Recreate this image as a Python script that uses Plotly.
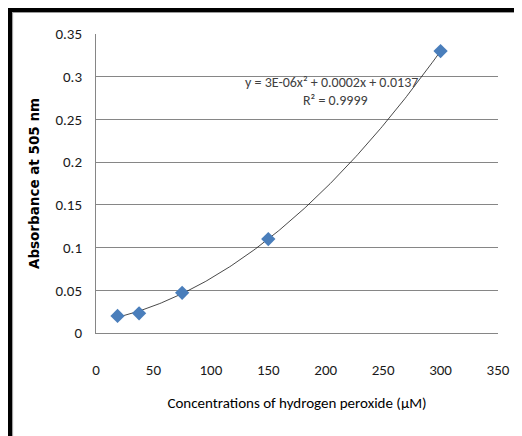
import numpy as np
import plotly.graph_objects as go

# Data
concentration = [18.75, 37.5, 75, 150, 300]
absorbance = [0.020, 0.023, 0.047, 0.110, 0.330]
x_ticks = [0, 50, 100, 150, 200, 250, 300, 350]
y_ticks = [0, 0.05, 0.1, 0.15, 0.2, 0.25, 0.3, 0.35]
y_tick_labels = ["0", "0.05", "0.1", "0.15", "0.2", "0.25", "0.3", "0.35"]
equation_text = "y = 3E-06x² + 0.0002x + 0.0137"
r2_text = "R² = 0.9999"

# polynomial trendline (order 2), as the spreadsheet does
coef = np.polyfit(concentration, absorbance, 2)
xf = np.linspace(min(concentration), max(concentration), 200)
yf = np.polyval(coef, xf)

FONT = "Carlito, 'Liberation Sans Narrow', 'Liberation Sans', sans-serif"

OFF = 8  # page body margin
W, H = 522 - OFF, 436 - OFF
L, R, T, B = 96 - OFF, 501 - OFF, 34 - OFF, 333 - OFF
def px(x):
    return (x - OFF - L) / (R - L)
def py(y):
    return (B - (y - OFF)) / (B - T)

fig = go.Figure()
fig.add_trace(go.Scatter(x=xf, y=yf, mode="lines",
                         line=dict(color="#1a1a1a", width=0.8), hoverinfo="skip",
                         showlegend=False))
fig.add_trace(go.Scatter(x=concentration, y=absorbance, mode="markers",
                         marker=dict(symbol="diamond", size=11, color="#4a7ebb",
                                     line=dict(width=0)),
                         showlegend=False))

fig.update_xaxes(range=[0, 350], tickvals=x_ticks, showgrid=False,
                 showline=True, linecolor="#868686", linewidth=1,
                 zeroline=False, ticks="", ticklen=0, ticklabelstandoff=23,
                 tickfont=dict(family=FONT, size=15, color="#1a1a1a"),
                 title=dict(text="Concentrations of hydrogen peroxide (μM)",
                            font=dict(family=FONT, size=15, color="#000000"),
                            standoff=19))
fig.update_yaxes(range=[0, 0.35], tickvals=y_ticks, ticktext=y_tick_labels,
                 showgrid=True, gridcolor="#868686", gridwidth=1,
                 showline=True, linecolor="#868686", linewidth=1,
                 zeroline=False, ticks="", ticklen=0, ticklabelstandoff=10,
                 tickfont=dict(family=FONT, size=15, color="#1a1a1a"),
                 title=dict(text="<b>Absorbance at 505 nm</b>",
                            font=dict(family="DejaVu Sans, Verdana, sans-serif", size=13.5, color="#000000"),
                            standoff=12))

fig.add_annotation(x=px(333), y=py(72), xref="paper", yref="paper",
                   text=equation_text, showarrow=False,
                   font=dict(family=FONT, size=14, color="#404040"))
fig.add_annotation(x=px(337), y=py(90), xref="paper", yref="paper",
                   text=r2_text, showarrow=False,
                   font=dict(family=FONT, size=14, color="#404040"))

# frame: black left and top borders with thin grey inner lines
fig.add_shape(type="rect", xref="paper", yref="paper", layer="above",
              x0=px(7), x1=px(11.5), y0=py(436), y1=py(7),
              fillcolor="#000000", line=dict(width=0))
fig.add_shape(type="rect", xref="paper", yref="paper", layer="above",
              x0=px(7), x1=px(522), y0=py(12), y1=py(7),
              fillcolor="#000000", line=dict(width=0))
fig.add_shape(type="line", xref="paper", yref="paper", layer="above",
              x0=px(12), x1=px(12), y0=py(436), y1=py(12),
              line=dict(color="#9a9a9a", width=1))
fig.add_shape(type="line", xref="paper", yref="paper", layer="above",
              x0=px(12), x1=px(522), y0=py(12.5), y1=py(12.5),
              line=dict(color="#9a9a9a", width=1))

fig.update_layout(width=W, height=H,
                  margin=dict(l=L, r=W - R, t=T, b=H - B, pad=0),
                  paper_bgcolor="white", plot_bgcolor="white",
                  showlegend=False)

fig.write_html("out.html")
